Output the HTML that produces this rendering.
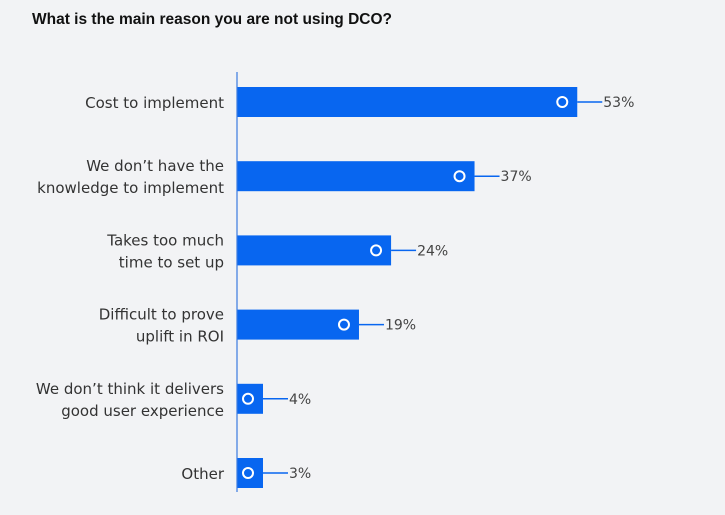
<!DOCTYPE html>
<html><head><meta charset="utf-8"><style>
body{margin:0;background:#f2f3f5;width:725px;height:510px;overflow:hidden;font-family:"Liberation Sans",sans-serif}
</style></head><body>
<svg width="725" height="510">
<text x="32" y="24" font-size="15.5" font-weight="bold" fill="#111">What is the main reason you are not using DCO?</text>
<g id="plot"></g>
</svg>
<script>
const categories=[["Cost to implement"],["We don’t have the","knowledge to implement"],["Takes too much","time to set up"],["Difficult to prove","uplift in ROI"],["We don’t think it delivers","good user experience"],["Other"]];
const values=[53,37,24,19,4,3];
const labels=["53%","37%","24%","19%","4%","3%"];
const NS="http://www.w3.org/2000/svg";
const g=document.getElementById('plot');
const x0=237, scale=6.42, y0=102, step=74.2, bh=30;
const xs=v=>x0+Math.max(v*scale,26);
const ys=i=>y0+i*step;
function mk(t,a){const e=document.createElementNS(NS,t);for(const k in a)e.setAttribute(k,a[k]);g.appendChild(e);return e;}
values.forEach((v,i)=>{
 const cy=ys(i), xe=xs(v);
 const b=mk('rect',{x:x0,y:cy-bh/2,width:xe-x0,height:bh,fill:'#0866f0'});
 
 
 const c=mk('circle',{cx:xe-15,cy:cy,r:5,fill:'none',stroke:'#fff','stroke-width':2});
 
 
 const l=mk('line',{x1:xe,y1:cy,x2:xe+25,y2:cy,stroke:'#0866f0','stroke-width':1.5});
 
 
 const t=mk('text',{x:xe+26,y:cy+5,'font-size':14,fill:'#444','font-family':'DejaVu Sans, sans-serif'});
 t.textContent=labels[i];
 
 
 const lines=categories[i];
 lines.forEach((s,j)=>{
  const ct=mk('text',{x:224,y:cy+6+(j-(lines.length-1)/2)*22,'font-size':15,fill:'#333','text-anchor':'end','font-family':'DejaVu Sans, sans-serif'});
  ct.textContent=s;
  
  
 });
});
const ax=mk('line',{x1:x0,y1:72,x2:x0,y2:492,stroke:'#3a7be0','stroke-width':1.2});


</script>
</body></html>
